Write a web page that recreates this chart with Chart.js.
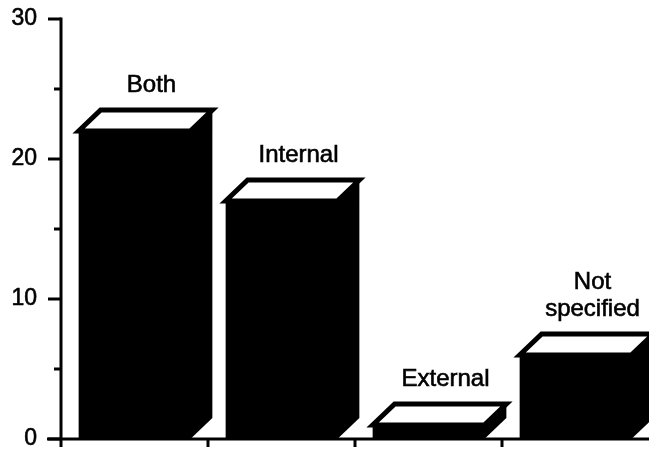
<!DOCTYPE html>
<html>
<head>
<meta charset="utf-8">
<script src="https://cdn.jsdelivr.net/npm/chart.js@4/dist/chart.umd.min.js"></script>
<style>
  html, body { margin: 0; padding: 0; background: #fff; }
  #wrap { width: 649px; height: 456px; position: relative; }
</style>
</head>
<body>
<div id="wrap"><canvas id="c" width="649" height="456"></canvas></div>
<script>
// Number of reports in each category
const categories = ['Both', 'Internal', 'External', ['Not', 'specified']];
const counts = [22, 17, 1, 6];
const yTickValues = [0, 10, 20, 30];
const yMinorValues = [5, 15, 25];

const FONT = '"Liberation Sans", Arial, Helvetica, sans-serif';
const DEPTH_X = 22;
const DEPTH_Y = 21;

// Draws the top and side faces of each bar so it reads as a solid block,
// plus the category name above it.
const blockBars = {
  id: 'blockBars',
  afterDatasetsDraw(chart) {
    const ctx = chart.ctx;
    const meta = chart.getDatasetMeta(0);
    ctx.save();
    meta.data.forEach((bar, i) => {
      const p = bar.getProps(['x', 'y', 'base', 'width'], true);
      const x0 = p.x - p.width / 2;
      const x1 = p.x + p.width / 2;
      const top = p.y;
      const base = p.base;

      // side face (overlaps the front edge slightly to avoid a seam)
      ctx.fillStyle = '#000';
      ctx.beginPath();
      ctx.moveTo(x1 - 1, top);
      ctx.lineTo(x1 + DEPTH_X, top - DEPTH_Y);
      ctx.lineTo(x1 + DEPTH_X, base - DEPTH_Y);
      ctx.lineTo(x1, base);
      ctx.lineTo(x1 - 1, base);
      ctx.closePath();
      ctx.fill();

      // top face
      ctx.beginPath();
      ctx.moveTo(x0, top);
      ctx.lineTo(x0 + DEPTH_X, top - DEPTH_Y);
      ctx.lineTo(x1 + DEPTH_X, top - DEPTH_Y);
      ctx.lineTo(x1, top);
      ctx.closePath();
      ctx.fillStyle = '#fff';
      ctx.fill();
      ctx.lineJoin = 'miter';
      ctx.lineWidth = 5;
      ctx.strokeStyle = '#000';
      ctx.stroke();

      // category name
      const label = categories[i];
      const lines = Array.isArray(label) ? label : [label];
      ctx.fillStyle = '#000';
      ctx.strokeStyle = '#000';
      ctx.lineWidth = 0.6;
      ctx.font = '24px ' + FONT;
      ctx.textAlign = 'center';
      ctx.textBaseline = 'alphabetic';
      const cx = p.x + 17;
      let baseline = top - DEPTH_Y - 18;
      for (let k = lines.length - 1; k >= 0; k--) {
        ctx.fillText(lines[k], cx, baseline);
        ctx.strokeText(lines[k], cx, baseline);
        baseline -= 27;
      }
    });
    ctx.restore();
  },
  afterDraw(chart) {
    const ctx = chart.ctx;
    const y = chart.scales.y;
    const x = chart.scales.x;
    const area = chart.chartArea;
    const axisX = area.left;
    const axisY = y.getPixelForValue(0);
    ctx.save();
    ctx.strokeStyle = '#000';
    ctx.lineWidth = 3;
    ctx.lineCap = 'butt';

    // vertical axis
    ctx.beginPath();
    ctx.moveTo(axisX, y.getPixelForValue(30) - 1.5);
    ctx.lineTo(axisX, axisY + 8);
    ctx.stroke();

    // horizontal axis
    ctx.beginPath();
    ctx.moveTo(axisX - 14, axisY);
    ctx.lineTo(area.right, axisY);
    ctx.stroke();

    // major ticks
    yTickValues.forEach(v => {
      const py = y.getPixelForValue(v);
      ctx.beginPath();
      ctx.moveTo(axisX - 13, py);
      ctx.lineTo(axisX, py);
      ctx.stroke();
    });
    // minor ticks
    yMinorValues.forEach(v => {
      const py = y.getPixelForValue(v);
      ctx.beginPath();
      ctx.moveTo(axisX - 7, py);
      ctx.lineTo(axisX, py);
      ctx.stroke();
    });
    // category boundary ticks
    for (let i = 1; i < categories.length; i++) {
      const px = (x.getPixelForValue(i - 1) + x.getPixelForValue(i)) / 2;
      ctx.beginPath();
      ctx.moveTo(px, axisY);
      ctx.lineTo(px, axisY + 8);
      ctx.stroke();
    }
    ctx.restore();
  }
};

new Chart(document.getElementById('c'), {
  type: 'bar',
  data: {
    labels: categories,
    datasets: [{
      data: counts,
      backgroundColor: '#000',
      borderWidth: 0,
      categoryPercentage: 1,
      barPercentage: 0.76
    }]
  },
  options: {
    responsive: false,
    animation: false,
    events: [],
    layout: { padding: { top: 19, bottom: 17, left: 0, right: 0 } },
    plugins: { legend: { display: false }, tooltip: { enabled: false } },
    scales: {
      x: {
        display: false
      },
      y: {
        min: 0,
        max: 30,
        afterFit(scale) {
          scale.width = 61;
          scale.paddingTop = 0;
          scale.paddingBottom = 0;
        },
        afterBuildTicks(scale) { scale.ticks = yTickValues.map(v => ({ value: v })); },
        grid: { display: false, drawTicks: false },
        border: { display: false },
        ticks: {
          color: '#000',
          padding: 24,
          textStrokeColor: '#000',
          textStrokeWidth: 0.6,
          font: { family: FONT, size: 23 }
        }
      }
    }
  },
  plugins: [blockBars]
});
</script>
</body>
</html>
